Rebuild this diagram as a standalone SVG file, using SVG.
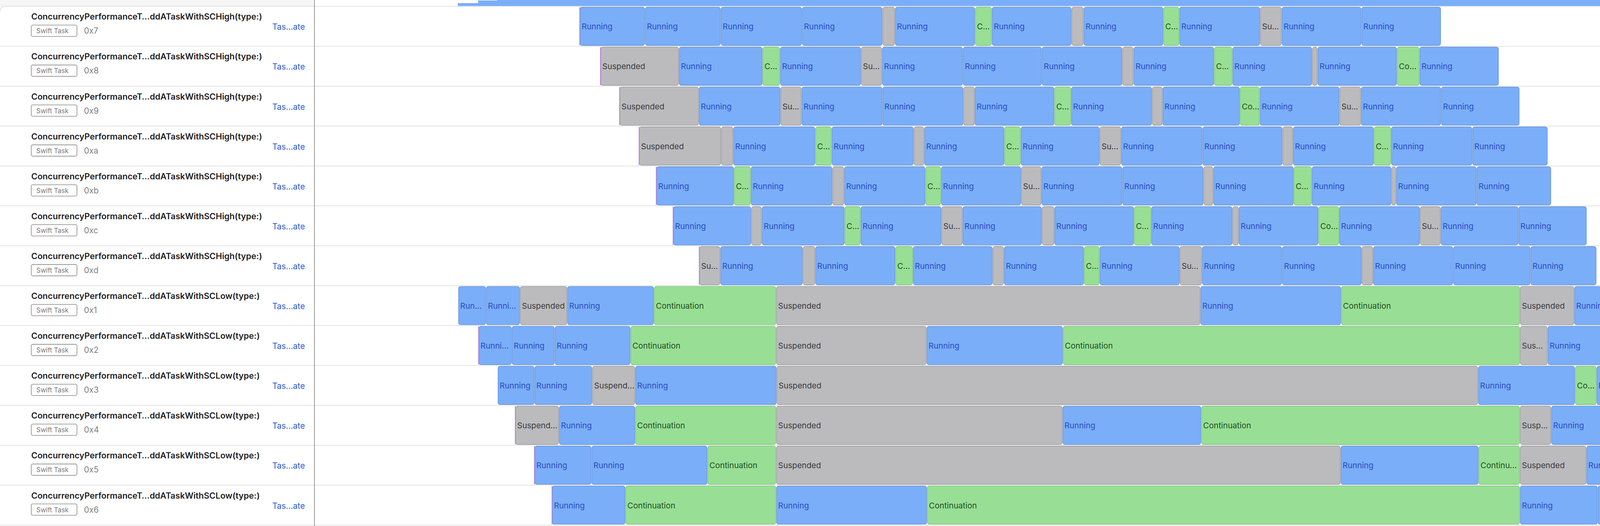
<svg xmlns="http://www.w3.org/2000/svg" width="5002" height="1346" viewBox="0 0 5002 1346">
<style>
.bg{fill:#ffffff}
.sep{stroke:#e3e3e3;stroke-width:2}
.r{fill:#7aaef8;stroke:#5a86d0;stroke-width:1.2}
.s{fill:#bbbbbe;stroke:#8e8e92;stroke-width:1.2}
.c{fill:#98df95;stroke:#6db96a;stroke-width:1.2}
.t{font-family:Inter,"Liberation Sans",sans-serif;font-size:20.5px}
.tr{fill:#2a4cc4}
.ts{fill:#3a3a3c}
.tc{fill:#1f4d1f}
.title{font-family:Inter,"Liberation Sans",sans-serif;font-size:21px;font-weight:600;fill:#1d1d1f}
.badge{fill:#ffffff;stroke:#8a8a8a;stroke-width:1.6}
.badget{font-family:Inter,"Liberation Sans",sans-serif;font-size:17px;fill:#777777}
.tid{font-family:Inter,"Liberation Sans",sans-serif;font-size:21px;fill:#808080}
.link{font-family:Inter,"Liberation Sans",sans-serif;font-size:21px;fill:#2a5bd7}
.start{stroke:#c08ee0;stroke-width:2}
</style>
<rect class="bg" x="0" y="0" width="5002" height="1346"/>
<rect x="0" y="0" width="805" height="17" fill="#f6f6f6"/>
<path d="M0 30 Q0 16 14 16 L805 16 L805 30 Z" fill="#ffffff"/>
<path d="M0 30 Q0 16 14 16 L805 16" fill="none" stroke="#e0e0e0" stroke-width="2"/>
<g id="top-bar">
<rect x="1172" y="8" width="52" height="8" fill="#7aaef8"/>
<rect x="1224" y="1.3" width="50" height="14.7" fill="#7aaef8"/>
<rect x="1273" y="0" width="3729" height="16" fill="#7aaef8"/>
</g>
<g id="grid">
<line class="sep" x1="0" y1="118.4" x2="5002" y2="118.4"/>
<line class="sep" x1="0" y1="220.5" x2="5002" y2="220.5"/>
<line class="sep" x1="0" y1="322.6" x2="5002" y2="322.6"/>
<line class="sep" x1="0" y1="424.7" x2="5002" y2="424.7"/>
<line class="sep" x1="0" y1="526.8" x2="5002" y2="526.8"/>
<line class="sep" x1="0" y1="628.9" x2="5002" y2="628.9"/>
<line class="sep" x1="0" y1="731" x2="5002" y2="731"/>
<line class="sep" x1="0" y1="833.1" x2="5002" y2="833.1"/>
<line class="sep" x1="0" y1="935.2" x2="5002" y2="935.2"/>
<line class="sep" x1="0" y1="1037.3" x2="5002" y2="1037.3"/>
<line class="sep" x1="0" y1="1139.4" x2="5002" y2="1139.4"/>
<line class="sep" x1="0" y1="1241.5" x2="5002" y2="1241.5"/>
<line class="sep" x1="0" y1="1344" x2="5002" y2="1344"/>
<line class="sep" x1="805" y1="16.3" x2="5002" y2="16.3"/>
<line x1="4807" y1="16" x2="4807" y2="1346" stroke="#efefef" stroke-width="2"/>
<line x1="805" y1="0" x2="805" y2="1346" stroke="#9a9a9a" stroke-width="2"/>
</g>
<g id="connectors"></g>

<g id="task-0x7" transform="translate(0,16.3)">
<text class="title" x="80" y="34" textLength="591" lengthAdjust="spacingAndGlyphs">ConcurrencyPerformanceT…ddATaskWithSCHigh(type:)</text>
<rect class="badge" x="80" y="48" width="117" height="29" rx="4"/><text class="badget" x="93" y="69">Swift Task</text>
<text class="tid" x="215" y="70">0x7</text>
<text class="link" x="697" y="60">Tas…ate</text>
<rect class="r" x="1485" y="2" width="165" height="98" rx="5"/><text class="t tr" x="1489" y="59">Running</text>
<rect class="r" x="1652" y="2" width="192" height="98" rx="5"/><text class="t tr" x="1656" y="59">Running</text>
<rect class="r" x="1846" y="2" width="206" height="98" rx="5"/><text class="t tr" x="1850" y="59">Running</text>
<rect class="r" x="2054" y="2" width="204" height="98" rx="5"/><text class="t tr" x="2058" y="59">Running</text>
<rect class="s" x="2260" y="2" width="30" height="98" rx="5"/>
<rect class="r" x="2292" y="2" width="203" height="98" rx="5"/><text class="t tr" x="2296" y="59">Running</text>
<rect class="c" x="2497" y="2" width="41" height="98" rx="5"/><text class="t tc" x="2501" y="59">C…</text>
<rect class="r" x="2540" y="2" width="202" height="98" rx="5"/><text class="t tr" x="2544" y="59">Running</text>
<rect class="s" x="2744" y="2" width="29" height="98" rx="5"/>
<rect class="r" x="2775" y="2" width="202" height="98" rx="5"/><text class="t tr" x="2779" y="59">Running</text>
<rect class="c" x="2979" y="2" width="39" height="98" rx="5"/><text class="t tc" x="2983" y="59">C…</text>
<rect class="r" x="3020" y="2" width="205" height="98" rx="5"/><text class="t tr" x="3024" y="59">Running</text>
<rect class="s" x="3227" y="2" width="53" height="98" rx="5"/><text class="t ts" x="3231" y="59">Su…</text>
<rect class="r" x="3282" y="2" width="202" height="98" rx="5"/><text class="t tr" x="3286" y="59">Running</text>
<rect class="r" x="3486" y="2" width="202" height="98" rx="5"/><text class="t tr" x="3490" y="59">Running</text>
<line class="start" x1="1484" y1="2" x2="1484" y2="100"/>
</g>

<g id="task-0x8" transform="translate(0,118.4)">
<text class="title" x="80" y="34" textLength="591" lengthAdjust="spacingAndGlyphs">ConcurrencyPerformanceT…ddATaskWithSCHigh(type:)</text>
<rect class="badge" x="80" y="48" width="117" height="29" rx="4"/><text class="badget" x="93" y="69">Swift Task</text>
<text class="tid" x="215" y="70">0x8</text>
<text class="link" x="697" y="60">Tas…ate</text>
<rect class="s" x="1538" y="2" width="199" height="98" rx="5"/><text class="t ts" x="1542" y="59">Suspended</text>
<rect class="r" x="1739" y="2" width="212" height="98" rx="5"/><text class="t tr" x="1743" y="59">Running</text>
<rect class="c" x="1953" y="2" width="43" height="98" rx="5"/><text class="t tc" x="1957" y="59">C…</text>
<rect class="r" x="1998" y="2" width="205" height="98" rx="5"/><text class="t tr" x="2002" y="59">Running</text>
<rect class="s" x="2205" y="2" width="52" height="98" rx="5"/><text class="t ts" x="2209" y="59">Su…</text>
<rect class="r" x="2259" y="2" width="205" height="98" rx="5"/><text class="t tr" x="2263" y="59">Running</text>
<rect class="r" x="2466" y="2" width="200" height="98" rx="5"/><text class="t tr" x="2470" y="59">Running</text>
<rect class="r" x="2668" y="2" width="204" height="98" rx="5"/><text class="t tr" x="2672" y="59">Running</text>
<rect class="s" x="2874" y="2" width="27" height="98" rx="5"/>
<rect class="r" x="2903" y="2" width="204" height="98" rx="5"/><text class="t tr" x="2907" y="59">Running</text>
<rect class="c" x="3109" y="2" width="45" height="98" rx="5"/><text class="t tc" x="3113" y="59">C…</text>
<rect class="r" x="3156" y="2" width="202" height="98" rx="5"/><text class="t tr" x="3160" y="59">Running</text>
<rect class="s" x="3360" y="2" width="12" height="98" rx="5"/>
<rect class="r" x="3374" y="2" width="201" height="98" rx="5"/><text class="t tr" x="3378" y="59">Running</text>
<rect class="c" x="3577" y="2" width="56" height="98" rx="5"/><text class="t tc" x="3581" y="59">Co…</text>
<rect class="r" x="3635" y="2" width="201" height="98" rx="5"/><text class="t tr" x="3639" y="59">Running</text>
<line class="start" x1="1537" y1="2" x2="1537" y2="100"/>
</g>

<g id="task-0x9" transform="translate(0,220.5)">
<text class="title" x="80" y="34" textLength="591" lengthAdjust="spacingAndGlyphs">ConcurrencyPerformanceT…ddATaskWithSCHigh(type:)</text>
<rect class="badge" x="80" y="48" width="117" height="29" rx="4"/><text class="badget" x="93" y="69">Swift Task</text>
<text class="tid" x="215" y="70">0x9</text>
<text class="link" x="697" y="60">Tas…ate</text>
<rect class="s" x="1587" y="2" width="201" height="98" rx="5"/><text class="t ts" x="1591" y="59">Suspended</text>
<rect class="r" x="1790" y="2" width="207" height="98" rx="5"/><text class="t tr" x="1794" y="59">Running</text>
<rect class="s" x="1999" y="2" width="52" height="98" rx="5"/><text class="t ts" x="2003" y="59">Su…</text>
<rect class="r" x="2053" y="2" width="205" height="98" rx="5"/><text class="t tr" x="2057" y="59">Running</text>
<rect class="r" x="2260" y="2" width="205" height="98" rx="5"/><text class="t tr" x="2264" y="59">Running</text>
<rect class="s" x="2467" y="2" width="27" height="98" rx="5"/>
<rect class="r" x="2496" y="2" width="202" height="98" rx="5"/><text class="t tr" x="2500" y="59">Running</text>
<rect class="c" x="2700" y="2" width="41" height="98" rx="5"/><text class="t tc" x="2704" y="59">C…</text>
<rect class="r" x="2743" y="2" width="205" height="98" rx="5"/><text class="t tr" x="2747" y="59">Running</text>
<rect class="s" x="2950" y="2" width="25" height="98" rx="5"/>
<rect class="r" x="2977" y="2" width="196" height="98" rx="5"/><text class="t tr" x="2981" y="59">Running</text>
<rect class="c" x="3175" y="2" width="49" height="98" rx="5"/><text class="t tc" x="3179" y="59">Co…</text>
<rect class="r" x="3226" y="2" width="202" height="98" rx="5"/><text class="t tr" x="3230" y="59">Running</text>
<rect class="s" x="3430" y="2" width="53" height="98" rx="5"/><text class="t ts" x="3434" y="59">Su…</text>
<rect class="r" x="3485" y="2" width="203" height="98" rx="5"/><text class="t tr" x="3489" y="59">Running</text>
<rect class="r" x="3690" y="2" width="199" height="98" rx="5"/><text class="t tr" x="3694" y="59">Running</text>
<line class="start" x1="1586" y1="2" x2="1586" y2="100"/>
</g>

<g id="task-0xa" transform="translate(0,322.6)">
<text class="title" x="80" y="34" textLength="591" lengthAdjust="spacingAndGlyphs">ConcurrencyPerformanceT…ddATaskWithSCHigh(type:)</text>
<rect class="badge" x="80" y="48" width="117" height="29" rx="4"/><text class="badget" x="93" y="69">Swift Task</text>
<text class="tid" x="215" y="70">0xa</text>
<text class="link" x="697" y="60">Tas…ate</text>
<rect class="s" x="1637" y="2" width="208" height="98" rx="5"/><text class="t ts" x="1641" y="59">Suspended</text>
<rect class="s" x="1847" y="2" width="29" height="98" rx="5"/>
<rect class="r" x="1878" y="2" width="208" height="98" rx="5"/><text class="t tr" x="1882" y="59">Running</text>
<rect class="c" x="2088" y="2" width="40" height="98" rx="5"/><text class="t tc" x="2092" y="59">C…</text>
<rect class="r" x="2130" y="2" width="208" height="98" rx="5"/><text class="t tr" x="2134" y="59">Running</text>
<rect class="s" x="2340" y="2" width="25" height="98" rx="5"/>
<rect class="r" x="2367" y="2" width="203" height="98" rx="5"/><text class="t tr" x="2371" y="59">Running</text>
<rect class="c" x="2572" y="2" width="40" height="98" rx="5"/><text class="t tc" x="2576" y="59">C…</text>
<rect class="r" x="2614" y="2" width="200" height="98" rx="5"/><text class="t tr" x="2618" y="59">Running</text>
<rect class="s" x="2816" y="2" width="53" height="98" rx="5"/><text class="t ts" x="2820" y="59">Su…</text>
<rect class="r" x="2871" y="2" width="206" height="98" rx="5"/><text class="t tr" x="2875" y="59">Running</text>
<rect class="r" x="3079" y="2" width="203" height="98" rx="5"/><text class="t tr" x="3083" y="59">Running</text>
<rect class="s" x="3284" y="2" width="25" height="98" rx="5"/>
<rect class="r" x="3311" y="2" width="205" height="98" rx="5"/><text class="t tr" x="3315" y="59">Running</text>
<rect class="c" x="3518" y="2" width="42" height="98" rx="5"/><text class="t tc" x="3522" y="59">C…</text>
<rect class="r" x="3562" y="2" width="206" height="98" rx="5"/><text class="t tr" x="3566" y="59">Running</text>
<rect class="r" x="3770" y="2" width="191" height="98" rx="5"/><text class="t tr" x="3774" y="59">Running</text>
<line class="start" x1="1636" y1="2" x2="1636" y2="100"/>
</g>

<g id="task-0xb" transform="translate(0,424.7)">
<text class="title" x="80" y="34" textLength="591" lengthAdjust="spacingAndGlyphs">ConcurrencyPerformanceT…ddATaskWithSCHigh(type:)</text>
<rect class="badge" x="80" y="48" width="117" height="29" rx="4"/><text class="badget" x="93" y="69">Swift Task</text>
<text class="tid" x="215" y="70">0xb</text>
<text class="link" x="697" y="60">Tas…ate</text>
<rect class="r" x="1681" y="2" width="197" height="98" rx="5"/><text class="t tr" x="1685" y="59">Running</text>
<rect class="c" x="1880" y="2" width="41" height="98" rx="5"/><text class="t tc" x="1884" y="59">C…</text>
<rect class="r" x="1923" y="2" width="207" height="98" rx="5"/><text class="t tr" x="1927" y="59">Running</text>
<rect class="s" x="2132" y="2" width="28" height="98" rx="5"/>
<rect class="r" x="2162" y="2" width="206" height="98" rx="5"/><text class="t tr" x="2166" y="59">Running</text>
<rect class="c" x="2370" y="2" width="38" height="98" rx="5"/><text class="t tc" x="2374" y="59">C…</text>
<rect class="r" x="2410" y="2" width="203" height="98" rx="5"/><text class="t tr" x="2414" y="59">Running</text>
<rect class="s" x="2615" y="2" width="50" height="98" rx="5"/><text class="t ts" x="2619" y="59">Su…</text>
<rect class="r" x="2667" y="2" width="205" height="98" rx="5"/><text class="t tr" x="2671" y="59">Running</text>
<rect class="r" x="2874" y="2" width="206" height="98" rx="5"/><text class="t tr" x="2878" y="59">Running</text>
<rect class="s" x="3082" y="2" width="23" height="98" rx="5"/>
<rect class="r" x="3107" y="2" width="204" height="98" rx="5"/><text class="t tr" x="3111" y="59">Running</text>
<rect class="c" x="3313" y="2" width="44" height="98" rx="5"/><text class="t tc" x="3317" y="59">C…</text>
<rect class="r" x="3359" y="2" width="202" height="98" rx="5"/><text class="t tr" x="3363" y="59">Running</text>
<rect class="s" x="3563" y="2" width="10" height="98" rx="5"/>
<rect class="r" x="3575" y="2" width="204" height="98" rx="5"/><text class="t tr" x="3579" y="59">Running</text>
<rect class="r" x="3781" y="2" width="189" height="98" rx="5"/><text class="t tr" x="3785" y="59">Running</text>
<line class="start" x1="1680" y1="2" x2="1680" y2="100"/>
</g>

<g id="task-0xc" transform="translate(0,526.8)">
<text class="title" x="80" y="34" textLength="591" lengthAdjust="spacingAndGlyphs">ConcurrencyPerformanceT…ddATaskWithSCHigh(type:)</text>
<rect class="badge" x="80" y="48" width="117" height="29" rx="4"/><text class="badget" x="93" y="69">Swift Task</text>
<text class="tid" x="215" y="70">0xc</text>
<text class="link" x="697" y="60">Tas…ate</text>
<rect class="r" x="1724" y="2" width="198" height="98" rx="5"/><text class="t tr" x="1728" y="59">Running</text>
<rect class="s" x="1924" y="2" width="25" height="98" rx="5"/>
<rect class="r" x="1951" y="2" width="210" height="98" rx="5"/><text class="t tr" x="1955" y="59">Running</text>
<rect class="c" x="2163" y="2" width="39" height="98" rx="5"/><text class="t tc" x="2167" y="59">C…</text>
<rect class="r" x="2204" y="2" width="205" height="98" rx="5"/><text class="t tr" x="2208" y="59">Running</text>
<rect class="s" x="2411" y="2" width="52" height="98" rx="5"/><text class="t ts" x="2415" y="59">Su…</text>
<rect class="r" x="2465" y="2" width="201" height="98" rx="5"/><text class="t tr" x="2469" y="59">Running</text>
<rect class="s" x="2668" y="2" width="30" height="98" rx="5"/>
<rect class="r" x="2700" y="2" width="202" height="98" rx="5"/><text class="t tr" x="2704" y="59">Running</text>
<rect class="c" x="2904" y="2" width="42" height="98" rx="5"/><text class="t tc" x="2908" y="59">C…</text>
<rect class="r" x="2948" y="2" width="206" height="98" rx="5"/><text class="t tr" x="2952" y="59">Running</text>
<rect class="s" x="3156" y="2" width="14" height="98" rx="5"/>
<rect class="r" x="3172" y="2" width="202" height="98" rx="5"/><text class="t tr" x="3176" y="59">Running</text>
<rect class="c" x="3376" y="2" width="51" height="98" rx="5"/><text class="t tc" x="3380" y="59">Co…</text>
<rect class="r" x="3429" y="2" width="205" height="98" rx="5"/><text class="t tr" x="3433" y="59">Running</text>
<rect class="s" x="3636" y="2" width="51" height="98" rx="5"/><text class="t ts" x="3640" y="59">Su…</text>
<rect class="r" x="3689" y="2" width="197" height="98" rx="5"/><text class="t tr" x="3693" y="59">Running</text>
<rect class="r" x="3888" y="2" width="173" height="98" rx="5"/><text class="t tr" x="3892" y="59">Running</text>
<line class="start" x1="1723" y1="2" x2="1723" y2="100"/>
</g>

<g id="task-0xd" transform="translate(0,628.9)">
<text class="title" x="80" y="34" textLength="591" lengthAdjust="spacingAndGlyphs">ConcurrencyPerformanceT…ddATaskWithSCHigh(type:)</text>
<rect class="badge" x="80" y="48" width="117" height="29" rx="4"/><text class="badget" x="93" y="69">Swift Task</text>
<text class="tid" x="215" y="70">0xd</text>
<text class="link" x="697" y="60">Tas…ate</text>
<rect class="s" x="1791" y="2" width="52" height="98" rx="5"/><text class="t ts" x="1795" y="59">Su…</text>
<rect class="r" x="1845" y="2" width="209" height="98" rx="5"/><text class="t tr" x="1849" y="59">Running</text>
<rect class="s" x="2056" y="2" width="30" height="98" rx="5"/>
<rect class="r" x="2088" y="2" width="203" height="98" rx="5"/><text class="t tr" x="2092" y="59">Running</text>
<rect class="c" x="2293" y="2" width="43" height="98" rx="5"/><text class="t tc" x="2297" y="59">C…</text>
<rect class="r" x="2338" y="2" width="202" height="98" rx="5"/><text class="t tr" x="2342" y="59">Running</text>
<rect class="s" x="2542" y="2" width="27" height="98" rx="5"/>
<rect class="r" x="2571" y="2" width="203" height="98" rx="5"/><text class="t tr" x="2575" y="59">Running</text>
<rect class="c" x="2776" y="2" width="38" height="98" rx="5"/><text class="t tc" x="2780" y="59">C…</text>
<rect class="r" x="2816" y="2" width="203" height="98" rx="5"/><text class="t tr" x="2820" y="59">Running</text>
<rect class="s" x="3021" y="2" width="55" height="98" rx="5"/><text class="t ts" x="3025" y="59">Su…</text>
<rect class="r" x="3078" y="2" width="203" height="98" rx="5"/><text class="t tr" x="3082" y="59">Running</text>
<rect class="r" x="3283" y="2" width="202" height="98" rx="5"/><text class="t tr" x="3287" y="59">Running</text>
<rect class="s" x="3487" y="2" width="27" height="98" rx="5"/>
<rect class="r" x="3516" y="2" width="203" height="98" rx="5"/><text class="t tr" x="3520" y="59">Running</text>
<rect class="r" x="3721" y="2" width="196" height="98" rx="5"/><text class="t tr" x="3725" y="59">Running</text>
<rect class="r" x="3919" y="2" width="167" height="98" rx="5"/><text class="t tr" x="3923" y="59">Running</text>
<line class="start" x1="1790" y1="2" x2="1790" y2="100"/>
</g>

<g id="task-0x1" transform="translate(0,731)">
<text class="title" x="80" y="34" textLength="585" lengthAdjust="spacingAndGlyphs">ConcurrencyPerformanceT…ddATaskWithSCLow(type:)</text>
<rect class="badge" x="80" y="48" width="117" height="29" rx="4"/><text class="badget" x="93" y="69">Swift Task</text>
<text class="tid" x="215" y="70">0x1</text>
<text class="link" x="697" y="60">Tas…ate</text>
<rect class="r" x="1174" y="2" width="69" height="98" rx="5"/><text class="t tr" x="1178" y="59">Run…</text>
<rect class="r" x="1245" y="2" width="85" height="98" rx="5"/><text class="t tr" x="1249" y="59">Runni…</text>
<rect class="s" x="1332" y="2" width="119" height="98" rx="5"/><text class="t ts" x="1336" y="59">Suspended</text>
<rect class="r" x="1453" y="2" width="220" height="98" rx="5"/><text class="t tr" x="1457" y="59">Running</text>
<rect class="c" x="1675" y="2" width="311" height="98" rx="5"/><text class="t tc" x="1679" y="59">Continuation</text>
<rect class="s" x="1988" y="2" width="1084" height="98" rx="5"/><text class="t ts" x="1992" y="59">Suspended</text>
<rect class="r" x="3074" y="2" width="358" height="98" rx="5"/><text class="t tr" x="3078" y="59">Running</text>
<rect class="c" x="3434" y="2" width="456" height="98" rx="5"/><text class="t tc" x="3438" y="59">Continuation</text>
<rect class="s" x="3892" y="2" width="137" height="98" rx="5"/><text class="t ts" x="3896" y="59">Suspended</text>
<rect class="r" x="4031" y="2" width="151" height="98" rx="5"/><text class="t tr" x="4035" y="59">Running</text>
<rect class="r" x="4184" y="2" width="138" height="98" rx="5"/><text class="t tr" x="4188" y="59">Running</text>
<rect class="r" x="4324" y="2" width="136" height="98" rx="5"/><text class="t tr" x="4328" y="59">Running</text>
<rect class="r" x="4462" y="2" width="137" height="98" rx="5"/><text class="t tr" x="4466" y="59">Running</text>
<rect class="r" x="4601" y="2" width="135" height="98" rx="5"/><text class="t tr" x="4605" y="59">Running</text>
</g>

<g id="task-0x2" transform="translate(0,833.1)">
<text class="title" x="80" y="34" textLength="585" lengthAdjust="spacingAndGlyphs">ConcurrencyPerformanceT…ddATaskWithSCLow(type:)</text>
<rect class="badge" x="80" y="48" width="117" height="29" rx="4"/><text class="badget" x="93" y="69">Swift Task</text>
<text class="tid" x="215" y="70">0x2</text>
<text class="link" x="697" y="60">Tas…ate</text>
<rect class="r" x="1226" y="2" width="83" height="98" rx="5"/><text class="t tr" x="1230" y="59">Runni…</text>
<rect class="r" x="1311" y="2" width="108" height="98" rx="5"/><text class="t tr" x="1315" y="59">Running</text>
<rect class="r" x="1421" y="2" width="192" height="98" rx="5"/><text class="t tr" x="1425" y="59">Running</text>
<rect class="c" x="1615" y="2" width="371" height="98" rx="5"/><text class="t tc" x="1619" y="59">Continuation</text>
<rect class="s" x="1988" y="2" width="383" height="98" rx="5"/><text class="t ts" x="1992" y="59">Suspended</text>
<rect class="r" x="2373" y="2" width="347" height="98" rx="5"/><text class="t tr" x="2377" y="59">Running</text>
<rect class="c" x="2722" y="2" width="1168" height="98" rx="5"/><text class="t tc" x="2726" y="59">Continuation</text>
<rect class="s" x="3892" y="2" width="69" height="98" rx="5"/><text class="t ts" x="3896" y="59">Sus…</text>
<rect class="r" x="3963" y="2" width="167" height="98" rx="5"/><text class="t tr" x="3967" y="59">Running</text>
<rect class="r" x="4132" y="2" width="136" height="98" rx="5"/><text class="t tr" x="4136" y="59">Running</text>
<rect class="r" x="4270" y="2" width="135" height="98" rx="5"/><text class="t tr" x="4274" y="59">Running</text>
<rect class="r" x="4407" y="2" width="135" height="98" rx="5"/><text class="t tr" x="4411" y="59">Running</text>
<rect class="r" x="4544" y="2" width="141" height="98" rx="5"/><text class="t tr" x="4548" y="59">Running</text>
<rect class="r" x="4687" y="2" width="120" height="98" rx="5"/><text class="t tr" x="4691" y="59">Running</text>
<line class="start" x1="1225" y1="2" x2="1225" y2="100"/>
</g>

<g id="task-0x3" transform="translate(0,935.2)">
<text class="title" x="80" y="34" textLength="585" lengthAdjust="spacingAndGlyphs">ConcurrencyPerformanceT…ddATaskWithSCLow(type:)</text>
<rect class="badge" x="80" y="48" width="117" height="29" rx="4"/><text class="badget" x="93" y="69">Swift Task</text>
<text class="tid" x="215" y="70">0x3</text>
<text class="link" x="697" y="60">Tas…ate</text>
<rect class="r" x="1275" y="2" width="92" height="98" rx="5"/><text class="t tr" x="1279" y="59">Running</text>
<rect class="r" x="1369" y="2" width="146" height="98" rx="5"/><text class="t tr" x="1373" y="59">Running</text>
<rect class="s" x="1517" y="2" width="108" height="98" rx="5"/><text class="t ts" x="1521" y="59">Suspend…</text>
<rect class="r" x="1627" y="2" width="360" height="98" rx="5"/><text class="t tr" x="1631" y="59">Running</text>
<rect class="s" x="1989" y="2" width="1794" height="98" rx="5"/><text class="t ts" x="1993" y="59">Suspended</text>
<rect class="r" x="3785" y="2" width="246" height="98" rx="5"/><text class="t tr" x="3789" y="59">Running</text>
<rect class="c" x="4033" y="2" width="53" height="98" rx="5"/><text class="t tc" x="4037" y="59">Co…</text>
<rect class="r" x="4088" y="2" width="139" height="98" rx="5"/><text class="t tr" x="4092" y="59">Running</text>
<rect class="r" x="4229" y="2" width="137" height="98" rx="5"/><text class="t tr" x="4233" y="59">Running</text>
<rect class="r" x="4368" y="2" width="134" height="98" rx="5"/><text class="t tr" x="4372" y="59">Running</text>
<rect class="r" x="4504" y="2" width="135" height="98" rx="5"/><text class="t tr" x="4508" y="59">Running</text>
<rect class="r" x="4641" y="2" width="128" height="98" rx="5"/><text class="t tr" x="4645" y="59">Running</text>
<rect class="r" x="4771" y="2" width="98" height="98" rx="5"/><text class="t tr" x="4775" y="59">Running</text>
</g>

<g id="task-0x4" transform="translate(0,1037.3)">
<text class="title" x="80" y="34" textLength="585" lengthAdjust="spacingAndGlyphs">ConcurrencyPerformanceT…ddATaskWithSCLow(type:)</text>
<rect class="badge" x="80" y="48" width="117" height="29" rx="4"/><text class="badget" x="93" y="69">Swift Task</text>
<text class="tid" x="215" y="70">0x4</text>
<text class="link" x="697" y="60">Tas…ate</text>
<rect class="s" x="1320" y="2" width="110" height="98" rx="5"/><text class="t ts" x="1324" y="59">Suspend…</text>
<rect class="r" x="1432" y="2" width="193" height="98" rx="5"/><text class="t tr" x="1436" y="59">Running</text>
<rect class="c" x="1627" y="2" width="359" height="98" rx="5"/><text class="t tc" x="1631" y="59">Continuation</text>
<rect class="s" x="1988" y="2" width="731" height="98" rx="5"/><text class="t ts" x="1992" y="59">Suspended</text>
<rect class="r" x="2721" y="2" width="353" height="98" rx="5"/><text class="t tr" x="2725" y="59">Running</text>
<rect class="c" x="3076" y="2" width="814" height="98" rx="5"/><text class="t tc" x="3080" y="59">Continuation</text>
<rect class="s" x="3892" y="2" width="78" height="98" rx="5"/><text class="t ts" x="3896" y="59">Susp…</text>
<rect class="r" x="3972" y="2" width="163" height="98" rx="5"/><text class="t tr" x="3976" y="59">Running</text>
<rect class="r" x="4137" y="2" width="137" height="98" rx="5"/><text class="t tr" x="4141" y="59">Running</text>
<rect class="r" x="4276" y="2" width="138" height="98" rx="5"/><text class="t tr" x="4280" y="59">Running</text>
<rect class="r" x="4416" y="2" width="135" height="98" rx="5"/><text class="t tr" x="4420" y="59">Running</text>
<rect class="r" x="4553" y="2" width="135" height="98" rx="5"/><text class="t tr" x="4557" y="59">Running</text>
<rect class="r" x="4690" y="2" width="119" height="98" rx="5"/><text class="t tr" x="4694" y="59">Running</text>
<rect class="r" x="4811" y="2" width="87" height="98" rx="5"/><text class="t tr" x="4815" y="59">Running</text>
<line class="start" x1="1319" y1="2" x2="1319" y2="100"/>
</g>

<g id="task-0x5" transform="translate(0,1139.4)">
<text class="title" x="80" y="34" textLength="585" lengthAdjust="spacingAndGlyphs">ConcurrencyPerformanceT…ddATaskWithSCLow(type:)</text>
<rect class="badge" x="80" y="48" width="117" height="29" rx="4"/><text class="badget" x="93" y="69">Swift Task</text>
<text class="tid" x="215" y="70">0x5</text>
<text class="link" x="697" y="60">Tas…ate</text>
<rect class="r" x="1369" y="2" width="144" height="98" rx="5"/><text class="t tr" x="1373" y="59">Running</text>
<rect class="r" x="1515" y="2" width="295" height="98" rx="5"/><text class="t tr" x="1519" y="59">Running</text>
<rect class="c" x="1812" y="2" width="174" height="98" rx="5"/><text class="t tc" x="1816" y="59">Continuation</text>
<rect class="s" x="1988" y="2" width="1443" height="98" rx="5"/><text class="t ts" x="1992" y="59">Suspended</text>
<rect class="r" x="3433" y="2" width="351" height="98" rx="5"/><text class="t tr" x="3437" y="59">Running</text>
<rect class="c" x="3786" y="2" width="104" height="98" rx="5"/><text class="t tc" x="3790" y="59">Continu…</text>
<rect class="s" x="3892" y="2" width="168" height="98" rx="5"/><text class="t ts" x="3896" y="59">Suspended</text>
<rect class="r" x="4062" y="2" width="139" height="98" rx="5"/><text class="t tr" x="4066" y="59">Running</text>
<rect class="r" x="4203" y="2" width="138" height="98" rx="5"/><text class="t tr" x="4207" y="59">Running</text>
<rect class="r" x="4343" y="2" width="136" height="98" rx="5"/><text class="t tr" x="4347" y="59">Running</text>
<rect class="r" x="4481" y="2" width="137" height="98" rx="5"/><text class="t tr" x="4485" y="59">Running</text>
<rect class="r" x="4620" y="2" width="133" height="98" rx="5"/><text class="t tr" x="4624" y="59">Running</text>
<rect class="r" x="4755" y="2" width="101" height="98" rx="5"/><text class="t tr" x="4759" y="59">Running</text>
<rect class="s" x="4858" y="2" width="77" height="98" rx="5"/><text class="t ts" x="4862" y="59">Susp…</text>
<line class="start" x1="1368" y1="2" x2="1368" y2="100"/>
</g>

<g id="task-0x6" transform="translate(0,1241.5)">
<text class="title" x="80" y="34" textLength="585" lengthAdjust="spacingAndGlyphs">ConcurrencyPerformanceT…ddATaskWithSCLow(type:)</text>
<rect class="badge" x="80" y="48" width="117" height="29" rx="4"/><text class="badget" x="93" y="69">Swift Task</text>
<text class="tid" x="215" y="70">0x6</text>
<text class="link" x="697" y="60">Tas…ate</text>
<rect class="r" x="1414" y="2" width="186" height="98" rx="5"/><text class="t tr" x="1418" y="59">Running</text>
<rect class="c" x="1602" y="2" width="384" height="98" rx="5"/><text class="t tc" x="1606" y="59">Continuation</text>
<rect class="r" x="1988" y="2" width="384" height="98" rx="5"/><text class="t tr" x="1992" y="59">Running</text>
<rect class="c" x="2374" y="2" width="1516" height="98" rx="5"/><text class="t tc" x="2378" y="59">Continuation</text>
<rect class="r" x="3892" y="2" width="197" height="98" rx="5"/><text class="t tr" x="3896" y="59">Running</text>
<rect class="r" x="4091" y="2" width="137" height="98" rx="5"/><text class="t tr" x="4095" y="59">Running</text>
<rect class="r" x="4230" y="2" width="136" height="98" rx="5"/><text class="t tr" x="4234" y="59">Running</text>
<rect class="r" x="4368" y="2" width="139" height="98" rx="5"/><text class="t tr" x="4372" y="59">Running</text>
<rect class="r" x="4509" y="2" width="135" height="98" rx="5"/><text class="t tr" x="4513" y="59">Running</text>
<rect class="r" x="4646" y="2" width="129" height="98" rx="5"/><text class="t tr" x="4650" y="59">Running</text>
<rect class="r" x="4777" y="2" width="96" height="98" rx="5"/><text class="t tr" x="4781" y="59">Running</text>
<rect class="r" x="4875" y="2" width="74" height="98" rx="5"/><text class="t tr" x="4879" y="59">Runn…</text>
<line class="start" x1="1413" y1="2" x2="1413" y2="100"/>
</g>
</svg>
